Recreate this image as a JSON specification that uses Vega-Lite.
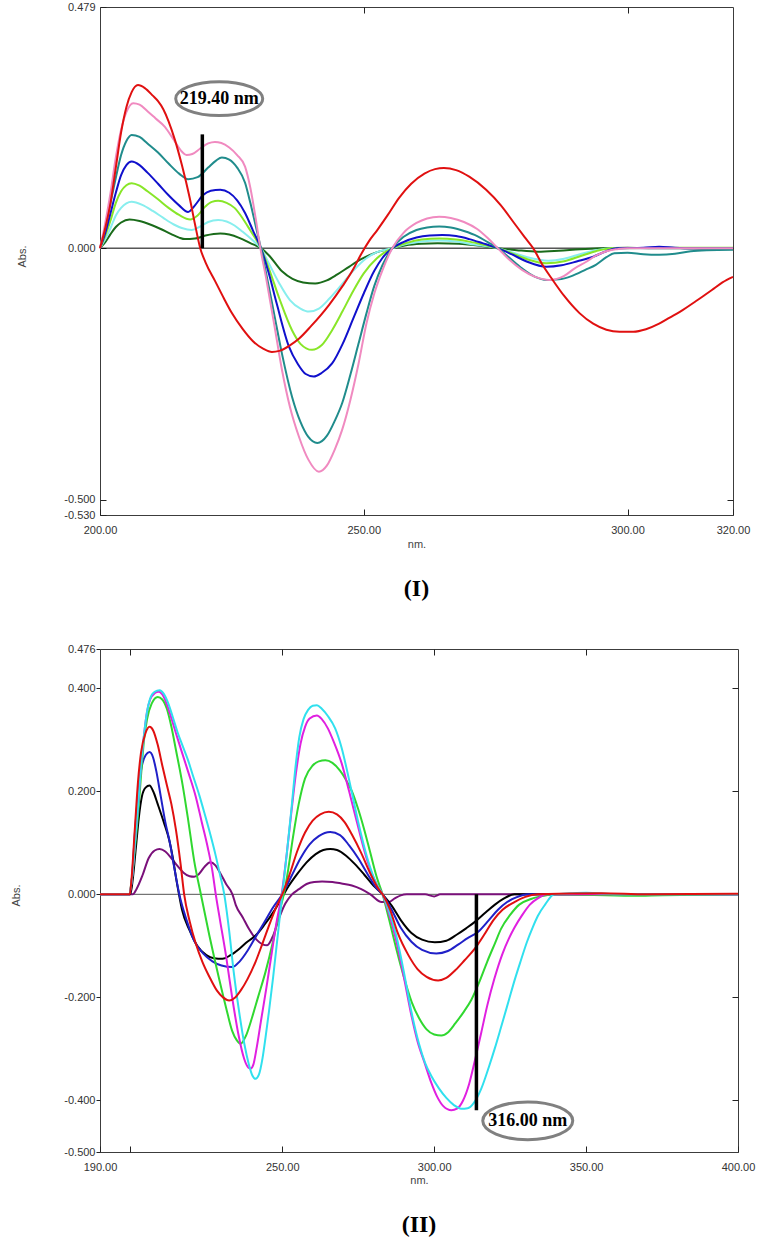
{
"$schema": "https://vega.github.io/schema/vega-lite/v6.json",
"autosize": {"type": "none"},
"padding": {"left": 100, "top": 7, "right": 663, "bottom": 1233},
"background": "white",
"spacing": 40,
"resolve": {"scale": {"color": "independent"}},
"config": {
  "view": {"stroke": "#3c3c3c", "strokeWidth": 1},
  "axis": {"grid": false, "domain": false, "labelFont": "Liberation Sans", "labelFontSize": 11, "labelColor": "#333333", "titleFont": "Liberation Sans", "titleFontSize": 11, "titleFontWeight": "normal", "titleColor": "#444444", "tickColor": "#222222", "labelOverlap": false, "labelFlush": false}
},
"datasets": {
"a1": [{"x": 219.4, "y": 0, "y2": 0.226, "lx": 222.6, "ly": 0.297, "label": "219.40 nm"}],
"a2": [{"x": 313.9, "y": 0, "y2": -0.419, "lx": 330.8, "ly": -0.4395, "label": "316.00 nm"}],
"p1": [
{"s":"I7","x":200,"y":0},{"s":"I7","x":201,"y":0.012},{"s":"I7","x":202,"y":0.028},{"s":"I7","x":203,"y":0.042},{"s":"I7","x":204,"y":0.051},{"s":"I7","x":205.6,"y":0.057},{"s":"I7","x":207.5,"y":0.054},{"s":"I7","x":209.5,"y":0.047},{"s":"I7","x":211.5,"y":0.038},{"s":"I7","x":213.5,"y":0.028},{"s":"I7","x":215,"y":0.021},{"s":"I7","x":216.1,"y":0.018},{"s":"I7","x":218,"y":0.019},{"s":"I7","x":220,"y":0.025},{"s":"I7","x":222.8,"y":0.029},{"s":"I7","x":224.5,"y":0.027},{"s":"I7","x":226.5,"y":0.02},{"s":"I7","x":228.5,"y":0.01},{"s":"I7","x":230.5,"y":0},{"s":"I7","x":232,"y":-0.014},{"s":"I7","x":234.5,"y":-0.046},{"s":"I7","x":236.5,"y":-0.061},{"s":"I7","x":238.5,"y":-0.068},{"s":"I7","x":240.8,"y":-0.07},{"s":"I7","x":243,"y":-0.064},{"s":"I7","x":245,"y":-0.052},{"s":"I7","x":247.2,"y":-0.037},{"s":"I7","x":249.5,"y":-0.022},{"s":"I7","x":252,"y":-0.01},{"s":"I7","x":255.4,"y":0},{"s":"I7","x":258,"y":0.006},{"s":"I7","x":261,"y":0.009},{"s":"I7","x":264,"y":0.01},{"s":"I7","x":268,"y":0.009},{"s":"I7","x":272,"y":0.005},{"s":"I7","x":275.4,"y":0},{"s":"I7","x":279,"y":-0.004},{"s":"I7","x":283,"y":-0.007},{"s":"I7","x":287,"y":-0.005},{"s":"I7","x":291,"y":-0.002},{"s":"I7","x":295,"y":0},{"s":"I7","x":300,"y":0.001},{"s":"I7","x":305,"y":0},{"s":"I7","x":310,"y":0},{"s":"I7","x":315,"y":-0.001},{"s":"I7","x":320,"y":0},
{"s":"I6","x":200,"y":0},{"s":"I6","x":201,"y":0.018},{"s":"I6","x":202,"y":0.04},{"s":"I6","x":203,"y":0.065},{"s":"I6","x":204,"y":0.08},{"s":"I6","x":205,"y":0.089},{"s":"I6","x":206,"y":0.092},{"s":"I6","x":208,"y":0.086},{"s":"I6","x":210,"y":0.074},{"s":"I6","x":212,"y":0.06},{"s":"I6","x":214,"y":0.047},{"s":"I6","x":215.5,"y":0.04},{"s":"I6","x":217.4,"y":0.036},{"s":"I6","x":219,"y":0.043},{"s":"I6","x":220.5,"y":0.052},{"s":"I6","x":222.4,"y":0.056},{"s":"I6","x":224,"y":0.053},{"s":"I6","x":225.5,"y":0.045},{"s":"I6","x":227,"y":0.033},{"s":"I6","x":229,"y":0.015},{"s":"I6","x":230.5,"y":0},{"s":"I6","x":232,"y":-0.03},{"s":"I6","x":234,"y":-0.07},{"s":"I6","x":236,"y":-0.103},{"s":"I6","x":238,"y":-0.12},{"s":"I6","x":239.6,"y":-0.126},{"s":"I6","x":241.5,"y":-0.12},{"s":"I6","x":243.5,"y":-0.1},{"s":"I6","x":246,"y":-0.07},{"s":"I6","x":248,"y":-0.045},{"s":"I6","x":250.5,"y":-0.02},{"s":"I6","x":252.5,"y":-0.008},{"s":"I6","x":255.4,"y":0},{"s":"I6","x":258,"y":0.008},{"s":"I6","x":261,"y":0.013},{"s":"I6","x":264,"y":0.015},{"s":"I6","x":267.5,"y":0.013},{"s":"I6","x":271,"y":0.007},{"s":"I6","x":275.4,"y":0},{"s":"I6","x":278,"y":-0.008},{"s":"I6","x":281,"y":-0.018},{"s":"I6","x":285,"y":-0.025},{"s":"I6","x":288,"y":-0.021},{"s":"I6","x":291,"y":-0.012},{"s":"I6","x":294,"y":-0.004},{"s":"I6","x":297,"y":0},{"s":"I6","x":320,"y":0},
{"s":"I5","x":200,"y":0},{"s":"I5","x":201,"y":0.025},{"s":"I5","x":202,"y":0.055},{"s":"I5","x":203,"y":0.09},{"s":"I5","x":204,"y":0.113},{"s":"I5","x":205,"y":0.125},{"s":"I5","x":206,"y":0.129},{"s":"I5","x":207.5,"y":0.124},{"s":"I5","x":209,"y":0.113},{"s":"I5","x":211,"y":0.097},{"s":"I5","x":213,"y":0.08},{"s":"I5","x":215,"y":0.066},{"s":"I5","x":217.1,"y":0.057},{"s":"I5","x":218.5,"y":0.065},{"s":"I5","x":220,"y":0.083},{"s":"I5","x":221.2,"y":0.092},{"s":"I5","x":222.4,"y":0.094},{"s":"I5","x":224,"y":0.09},{"s":"I5","x":225.5,"y":0.08},{"s":"I5","x":227,"y":0.06},{"s":"I5","x":228.5,"y":0.035},{"s":"I5","x":230.5,"y":0},{"s":"I5","x":232,"y":-0.04},{"s":"I5","x":234,"y":-0.1},{"s":"I5","x":236.4,"y":-0.163},{"s":"I5","x":238,"y":-0.19},{"s":"I5","x":240.2,"y":-0.202},{"s":"I5","x":242,"y":-0.193},{"s":"I5","x":244,"y":-0.163},{"s":"I5","x":246,"y":-0.125},{"s":"I5","x":248,"y":-0.085},{"s":"I5","x":250,"y":-0.05},{"s":"I5","x":252.5,"y":-0.02},{"s":"I5","x":255.4,"y":0},{"s":"I5","x":258,"y":0.01},{"s":"I5","x":261,"y":0.017},{"s":"I5","x":264.3,"y":0.019},{"s":"I5","x":267.5,"y":0.017},{"s":"I5","x":270,"y":0.013},{"s":"I5","x":273,"y":0.006},{"s":"I5","x":275.4,"y":0},{"s":"I5","x":278,"y":-0.01},{"s":"I5","x":281,"y":-0.022},{"s":"I5","x":284.6,"y":-0.03},{"s":"I5","x":288,"y":-0.026},{"s":"I5","x":291,"y":-0.016},{"s":"I5","x":294,"y":-0.006},{"s":"I5","x":297,"y":0},{"s":"I5","x":310,"y":0.001},{"s":"I5","x":320,"y":0.001},
{"s":"I4","x":200,"y":0},{"s":"I4","x":201,"y":0.03},{"s":"I4","x":202,"y":0.07},{"s":"I4","x":203,"y":0.11},{"s":"I4","x":204,"y":0.145},{"s":"I4","x":205,"y":0.165},{"s":"I4","x":206,"y":0.172},{"s":"I4","x":207.5,"y":0.165},{"s":"I4","x":209,"y":0.15},{"s":"I4","x":211,"y":0.128},{"s":"I4","x":213,"y":0.105},{"s":"I4","x":215,"y":0.085},{"s":"I4","x":216.7,"y":0.072},{"s":"I4","x":218,"y":0.085},{"s":"I4","x":219.5,"y":0.105},{"s":"I4","x":221,"y":0.114},{"s":"I4","x":222.8,"y":0.116},{"s":"I4","x":224.5,"y":0.11},{"s":"I4","x":226,"y":0.095},{"s":"I4","x":227.5,"y":0.07},{"s":"I4","x":229,"y":0.035},{"s":"I4","x":230.5,"y":0},{"s":"I4","x":232,"y":-0.05},{"s":"I4","x":233.5,"y":-0.11},{"s":"I4","x":235.8,"y":-0.195},{"s":"I4","x":237.5,"y":-0.23},{"s":"I4","x":239,"y":-0.25},{"s":"I4","x":240.5,"y":-0.255},{"s":"I4","x":242,"y":-0.248},{"s":"I4","x":244,"y":-0.229},{"s":"I4","x":246,"y":-0.19},{"s":"I4","x":248,"y":-0.14},{"s":"I4","x":250,"y":-0.09},{"s":"I4","x":252,"y":-0.045},{"s":"I4","x":253.5,"y":-0.02},{"s":"I4","x":255.4,"y":0},{"s":"I4","x":257.5,"y":0.012},{"s":"I4","x":260,"y":0.021},{"s":"I4","x":262.5,"y":0.025},{"s":"I4","x":264.9,"y":0.026},{"s":"I4","x":267.5,"y":0.024},{"s":"I4","x":270,"y":0.018},{"s":"I4","x":272.5,"y":0.01},{"s":"I4","x":275.4,"y":0},{"s":"I4","x":278,"y":-0.012},{"s":"I4","x":281,"y":-0.027},{"s":"I4","x":284.6,"y":-0.037},{"s":"I4","x":287.5,"y":-0.034},{"s":"I4","x":290.5,"y":-0.026},{"s":"I4","x":293.5,"y":-0.017},{"s":"I4","x":296,"y":-0.006},{"s":"I4","x":298,"y":0},{"s":"I4","x":303,"y":0.001},{"s":"I4","x":306,"y":0.003},{"s":"I4","x":309,"y":0.001},{"s":"I4","x":312,"y":0},{"s":"I4","x":320,"y":0},
{"s":"I3","x":200,"y":0},{"s":"I3","x":201,"y":0.04},{"s":"I3","x":202,"y":0.09},{"s":"I3","x":203,"y":0.14},{"s":"I3","x":204,"y":0.185},{"s":"I3","x":205,"y":0.213},{"s":"I3","x":206,"y":0.225},{"s":"I3","x":207.5,"y":0.221},{"s":"I3","x":209,"y":0.208},{"s":"I3","x":211,"y":0.19},{"s":"I3","x":213,"y":0.168},{"s":"I3","x":215,"y":0.148},{"s":"I3","x":216.7,"y":0.137},{"s":"I3","x":218.5,"y":0.141},{"s":"I3","x":220.5,"y":0.16},{"s":"I3","x":222,"y":0.174},{"s":"I3","x":223.1,"y":0.18},{"s":"I3","x":224.5,"y":0.176},{"s":"I3","x":226,"y":0.16},{"s":"I3","x":227.5,"y":0.13},{"s":"I3","x":228.5,"y":0.09},{"s":"I3","x":229.5,"y":0.045},{"s":"I3","x":230.5,"y":0},{"s":"I3","x":231.5,"y":-0.05},{"s":"I3","x":233,"y":-0.13},{"s":"I3","x":234.5,"y":-0.21},{"s":"I3","x":236.4,"y":-0.295},{"s":"I3","x":238,"y":-0.345},{"s":"I3","x":239.5,"y":-0.375},{"s":"I3","x":241.2,"y":-0.387},{"s":"I3","x":243,"y":-0.373},{"s":"I3","x":244.5,"y":-0.343},{"s":"I3","x":245.9,"y":-0.308},{"s":"I3","x":247.5,"y":-0.25},{"s":"I3","x":249,"y":-0.19},{"s":"I3","x":250.5,"y":-0.13},{"s":"I3","x":252,"y":-0.075},{"s":"I3","x":253.5,"y":-0.035},{"s":"I3","x":255.4,"y":0},{"s":"I3","x":257.5,"y":0.022},{"s":"I3","x":260,"y":0.036},{"s":"I3","x":262,"y":0.041},{"s":"I3","x":264.3,"y":0.043},{"s":"I3","x":266.5,"y":0.041},{"s":"I3","x":269,"y":0.034},{"s":"I3","x":271.5,"y":0.024},{"s":"I3","x":273.5,"y":0.012},{"s":"I3","x":275.4,"y":0},{"s":"I3","x":277.5,"y":-0.018},{"s":"I3","x":280,"y":-0.04},{"s":"I3","x":282.5,"y":-0.057},{"s":"I3","x":284.6,"y":-0.063},{"s":"I3","x":287,"y":-0.062},{"s":"I3","x":289.5,"y":-0.055},{"s":"I3","x":292,"y":-0.043},{"s":"I3","x":294,"y":-0.033},{"s":"I3","x":296,"y":-0.018},{"s":"I3","x":297.5,"y":-0.01},{"s":"I3","x":300,"y":-0.009},{"s":"I3","x":303,"y":-0.012},{"s":"I3","x":306,"y":-0.013},{"s":"I3","x":309,"y":-0.011},{"s":"I3","x":312,"y":-0.006},{"s":"I3","x":315,"y":-0.004},{"s":"I3","x":320,"y":-0.003},
{"s":"I2","x":200,"y":0},{"s":"I2","x":201,"y":0.05},{"s":"I2","x":202,"y":0.11},{"s":"I2","x":203,"y":0.18},{"s":"I2","x":204,"y":0.235},{"s":"I2","x":205,"y":0.27},{"s":"I2","x":206.3,"y":0.288},{"s":"I2","x":207.5,"y":0.285},{"s":"I2","x":209,"y":0.272},{"s":"I2","x":210.5,"y":0.258},{"s":"I2","x":212.3,"y":0.241},{"s":"I2","x":214,"y":0.215},{"s":"I2","x":215.5,"y":0.192},{"s":"I2","x":216.4,"y":0.185},{"s":"I2","x":217.5,"y":0.187},{"s":"I2","x":219,"y":0.198},{"s":"I2","x":220.5,"y":0.208},{"s":"I2","x":221.8,"y":0.211},{"s":"I2","x":223,"y":0.209},{"s":"I2","x":224.5,"y":0.2},{"s":"I2","x":226,"y":0.185},{"s":"I2","x":227.5,"y":0.162},{"s":"I2","x":228.5,"y":0.12},{"s":"I2","x":229.5,"y":0.06},{"s":"I2","x":230.4,"y":0},{"s":"I2","x":231.5,"y":-0.06},{"s":"I2","x":233,"y":-0.15},{"s":"I2","x":234.5,"y":-0.242},{"s":"I2","x":236,"y":-0.315},{"s":"I2","x":237.7,"y":-0.374},{"s":"I2","x":239.5,"y":-0.42},{"s":"I2","x":241.5,"y":-0.444},{"s":"I2","x":243,"y":-0.432},{"s":"I2","x":244.5,"y":-0.4},{"s":"I2","x":245.9,"y":-0.361},{"s":"I2","x":247.5,"y":-0.3},{"s":"I2","x":249,"y":-0.23},{"s":"I2","x":250.5,"y":-0.15},{"s":"I2","x":252,"y":-0.09},{"s":"I2","x":253.5,"y":-0.045},{"s":"I2","x":255.4,"y":0},{"s":"I2","x":257.5,"y":0.03},{"s":"I2","x":260,"y":0.05},{"s":"I2","x":262,"y":0.059},{"s":"I2","x":264.3,"y":0.0625},{"s":"I2","x":266.5,"y":0.06},{"s":"I2","x":269,"y":0.052},{"s":"I2","x":271.5,"y":0.038},{"s":"I2","x":273.5,"y":0.02},{"s":"I2","x":275.4,"y":0},{"s":"I2","x":277.5,"y":-0.022},{"s":"I2","x":280,"y":-0.043},{"s":"I2","x":282.5,"y":-0.057},{"s":"I2","x":285.2,"y":-0.063},{"s":"I2","x":288,"y":-0.055},{"s":"I2","x":290,"y":-0.04},{"s":"I2","x":292.2,"y":-0.027},{"s":"I2","x":294,"y":-0.015},{"s":"I2","x":296,"y":-0.006},{"s":"I2","x":298,"y":-0.002},{"s":"I2","x":300,"y":0},{"s":"I2","x":310,"y":0},{"s":"I2","x":320,"y":0},
{"s":"I1","x":200,"y":0},{"s":"I1","x":201,"y":0.04},{"s":"I1","x":202,"y":0.09},{"s":"I1","x":203,"y":0.16},{"s":"I1","x":204,"y":0.23},{"s":"I1","x":205,"y":0.28},{"s":"I1","x":206,"y":0.31},{"s":"I1","x":207.2,"y":0.324},{"s":"I1","x":208.5,"y":0.318},{"s":"I1","x":210,"y":0.303},{"s":"I1","x":211,"y":0.292},{"s":"I1","x":212,"y":0.276},{"s":"I1","x":213,"y":0.252},{"s":"I1","x":214.2,"y":0.215},{"s":"I1","x":215.5,"y":0.166},{"s":"I1","x":217,"y":0.1},{"s":"I1","x":218,"y":0.048},{"s":"I1","x":219,"y":0},{"s":"I1","x":220,"y":-0.028},{"s":"I1","x":221.8,"y":-0.065},{"s":"I1","x":223.5,"y":-0.1},{"s":"I1","x":225,"y":-0.129},{"s":"I1","x":227,"y":-0.16},{"s":"I1","x":229,"y":-0.185},{"s":"I1","x":231,"y":-0.2},{"s":"I1","x":232.6,"y":-0.206},{"s":"I1","x":234,"y":-0.204},{"s":"I1","x":236,"y":-0.193},{"s":"I1","x":237.7,"y":-0.18},{"s":"I1","x":240,"y":-0.155},{"s":"I1","x":243.4,"y":-0.113},{"s":"I1","x":246,"y":-0.075},{"s":"I1","x":248,"y":-0.042},{"s":"I1","x":249.5,"y":-0.012},{"s":"I1","x":251,"y":0.014},{"s":"I1","x":252.5,"y":0.035},{"s":"I1","x":254.5,"y":0.065},{"s":"I1","x":256.7,"y":0.1},{"s":"I1","x":259,"y":0.128},{"s":"I1","x":261.5,"y":0.148},{"s":"I1","x":263.5,"y":0.157},{"s":"I1","x":265.2,"y":0.159},{"s":"I1","x":267.5,"y":0.155},{"s":"I1","x":270,"y":0.142},{"s":"I1","x":273.2,"y":0.116},{"s":"I1","x":276,"y":0.085},{"s":"I1","x":278.5,"y":0.05},{"s":"I1","x":280.5,"y":0.022},{"s":"I1","x":282.1,"y":0},{"s":"I1","x":284,"y":-0.035},{"s":"I1","x":285.8,"y":-0.063},{"s":"I1","x":288,"y":-0.095},{"s":"I1","x":290.9,"y":-0.129},{"s":"I1","x":293.5,"y":-0.15},{"s":"I1","x":296,"y":-0.162},{"s":"I1","x":298.5,"y":-0.166},{"s":"I1","x":301.1,"y":-0.166},{"s":"I1","x":303.5,"y":-0.161},{"s":"I1","x":306,"y":-0.15},{"s":"I1","x":308,"y":-0.138},{"s":"I1","x":310,"y":-0.126},{"s":"I1","x":313,"y":-0.105},{"s":"I1","x":316,"y":-0.083},{"s":"I1","x":318,"y":-0.068},{"s":"I1","x":320,"y":-0.057}
],
"p2": [
{"s":"II7","x":190,"y":0},{"s":"II7","x":200.8,"y":0},{"s":"II7","x":202,"y":0.01},{"s":"II7","x":204,"y":0.037},{"s":"II7","x":206,"y":0.07},{"s":"II7","x":208,"y":0.085},{"s":"II7","x":209.6,"y":0.088},{"s":"II7","x":211.5,"y":0.083},{"s":"II7","x":213.5,"y":0.07},{"s":"II7","x":215.5,"y":0.055},{"s":"II7","x":217.5,"y":0.042},{"s":"II7","x":219.5,"y":0.035},{"s":"II7","x":221,"y":0.034},{"s":"II7","x":222.5,"y":0.039},{"s":"II7","x":224.5,"y":0.054},{"s":"II7","x":226.3,"y":0.062},{"s":"II7","x":228,"y":0.056},{"s":"II7","x":229.5,"y":0.042},{"s":"II7","x":231.5,"y":0.02},{"s":"II7","x":233.6,"y":0},{"s":"II7","x":234.7,"y":-0.021},{"s":"II7","x":237,"y":-0.045},{"s":"II7","x":239,"y":-0.067},{"s":"II7","x":241.5,"y":-0.088},{"s":"II7","x":243.5,"y":-0.097},{"s":"II7","x":245,"y":-0.099},{"s":"II7","x":247,"y":-0.08},{"s":"II7","x":248.9,"y":-0.047},{"s":"II7","x":251,"y":-0.018},{"s":"II7","x":253.2,"y":0},{"s":"II7","x":255.5,"y":0.01},{"s":"II7","x":258,"y":0.02},{"s":"II7","x":260.5,"y":0.024},{"s":"II7","x":263.1,"y":0.025},{"s":"II7","x":266.5,"y":0.024},{"s":"II7","x":269.5,"y":0.021},{"s":"II7","x":272.9,"y":0.017},{"s":"II7","x":276,"y":0.01},{"s":"II7","x":279,"y":0},{"s":"II7","x":282.7,"y":-0.015},{"s":"II7","x":285,"y":-0.015},{"s":"II7","x":287,"y":-0.008},{"s":"II7","x":289,"y":-0.002},{"s":"II7","x":291,"y":0},{"s":"II7","x":297,"y":0},{"s":"II7","x":300,"y":-0.004},{"s":"II7","x":302,"y":0},{"s":"II7","x":350,"y":0},{"s":"II7","x":400,"y":0},
{"s":"II6","x":190,"y":0},{"s":"II6","x":200,"y":0},{"s":"II6","x":200.8,"y":0.03},{"s":"II6","x":201.8,"y":0.09},{"s":"II6","x":202.8,"y":0.15},{"s":"II6","x":203.8,"y":0.19},{"s":"II6","x":205,"y":0.207},{"s":"II6","x":206.3,"y":0.211},{"s":"II6","x":207.5,"y":0.2},{"s":"II6","x":209,"y":0.175},{"s":"II6","x":211,"y":0.14},{"s":"II6","x":212.8,"y":0.105},{"s":"II6","x":214,"y":0.07},{"s":"II6","x":215,"y":0.033},{"s":"II6","x":216,"y":0},{"s":"II6","x":217,"y":-0.03},{"s":"II6","x":219.5,"y":-0.07},{"s":"II6","x":222,"y":-0.1},{"s":"II6","x":225,"y":-0.118},{"s":"II6","x":227.5,"y":-0.124},{"s":"II6","x":230.3,"y":-0.125},{"s":"II6","x":233,"y":-0.118},{"s":"II6","x":236,"y":-0.105},{"s":"II6","x":238.5,"y":-0.092},{"s":"II6","x":241.2,"y":-0.08},{"s":"II6","x":244,"y":-0.06},{"s":"II6","x":247,"y":-0.035},{"s":"II6","x":250,"y":-0.005},{"s":"II6","x":252,"y":0.015},{"s":"II6","x":255,"y":0.04},{"s":"II6","x":258,"y":0.062},{"s":"II6","x":261,"y":0.078},{"s":"II6","x":263.5,"y":0.086},{"s":"II6","x":265.8,"y":0.088},{"s":"II6","x":268,"y":0.086},{"s":"II6","x":271,"y":0.075},{"s":"II6","x":274,"y":0.058},{"s":"II6","x":277,"y":0.038},{"s":"II6","x":280,"y":0.017},{"s":"II6","x":283,"y":0},{"s":"II6","x":286,"y":-0.022},{"s":"II6","x":289,"y":-0.05},{"s":"II6","x":292.5,"y":-0.075},{"s":"II6","x":296,"y":-0.088},{"s":"II6","x":300.2,"y":-0.093},{"s":"II6","x":304,"y":-0.09},{"s":"II6","x":307.5,"y":-0.078},{"s":"II6","x":310.5,"y":-0.066},{"s":"II6","x":313.3,"y":-0.054},{"s":"II6","x":317,"y":-0.035},{"s":"II6","x":320,"y":-0.02},{"s":"II6","x":323,"y":-0.008},{"s":"II6","x":326.4,"y":0},{"s":"II6","x":350,"y":0},{"s":"II6","x":400,"y":0},
{"s":"II5","x":190,"y":0},{"s":"II5","x":199.8,"y":0},{"s":"II5","x":200.5,"y":0.03},{"s":"II5","x":201.5,"y":0.12},{"s":"II5","x":202.5,"y":0.19},{"s":"II5","x":203.5,"y":0.24},{"s":"II5","x":205,"y":0.27},{"s":"II5","x":206.3,"y":0.276},{"s":"II5","x":207.5,"y":0.265},{"s":"II5","x":208.5,"y":0.24},{"s":"II5","x":210,"y":0.19},{"s":"II5","x":211.5,"y":0.14},{"s":"II5","x":213,"y":0.1},{"s":"II5","x":214.5,"y":0.05},{"s":"II5","x":216.1,"y":0},{"s":"II5","x":218.5,"y":-0.05},{"s":"II5","x":221,"y":-0.09},{"s":"II5","x":224,"y":-0.115},{"s":"II5","x":227,"y":-0.13},{"s":"II5","x":230,"y":-0.138},{"s":"II5","x":233.6,"y":-0.141},{"s":"II5","x":236,"y":-0.13},{"s":"II5","x":238.5,"y":-0.11},{"s":"II5","x":241,"y":-0.085},{"s":"II5","x":244,"y":-0.055},{"s":"II5","x":247,"y":-0.025},{"s":"II5","x":250,"y":0},{"s":"II5","x":253,"y":0.035},{"s":"II5","x":256,"y":0.07},{"s":"II5","x":259,"y":0.097},{"s":"II5","x":262,"y":0.113},{"s":"II5","x":265.8,"y":0.121},{"s":"II5","x":269,"y":0.115},{"s":"II5","x":272,"y":0.095},{"s":"II5","x":275,"y":0.07},{"s":"II5","x":278,"y":0.04},{"s":"II5","x":281,"y":0.012},{"s":"II5","x":283,"y":0},{"s":"II5","x":286,"y":-0.03},{"s":"II5","x":289,"y":-0.065},{"s":"II5","x":292.5,"y":-0.092},{"s":"II5","x":296,"y":-0.108},{"s":"II5","x":300.7,"y":-0.115},{"s":"II5","x":304.5,"y":-0.11},{"s":"II5","x":308,"y":-0.097},{"s":"II5","x":311,"y":-0.085},{"s":"II5","x":314.4,"y":-0.073},{"s":"II5","x":318,"y":-0.05},{"s":"II5","x":321,"y":-0.03},{"s":"II5","x":324,"y":-0.015},{"s":"II5","x":327,"y":-0.006},{"s":"II5","x":331,"y":0},{"s":"II5","x":350,"y":0},{"s":"II5","x":400,"y":0},
{"s":"II3","x":190,"y":0},{"s":"II3","x":199.5,"y":0},{"s":"II3","x":200.5,"y":0.03},{"s":"II3","x":201.5,"y":0.09},{"s":"II3","x":202.5,"y":0.153},{"s":"II3","x":203.5,"y":0.23},{"s":"II3","x":204.5,"y":0.3},{"s":"II3","x":205.5,"y":0.34},{"s":"II3","x":207,"y":0.37},{"s":"II3","x":209,"y":0.383},{"s":"II3","x":210.5,"y":0.378},{"s":"II3","x":212,"y":0.36},{"s":"II3","x":213.5,"y":0.325},{"s":"II3","x":215,"y":0.28},{"s":"II3","x":217.2,"y":0.212},{"s":"II3","x":219,"y":0.145},{"s":"II3","x":221,"y":0.065},{"s":"II3","x":223.2,"y":0},{"s":"II3","x":226,"y":-0.08},{"s":"II3","x":229.2,"y":-0.164},{"s":"II3","x":231.5,"y":-0.22},{"s":"II3","x":233.5,"y":-0.265},{"s":"II3","x":235,"y":-0.283},{"s":"II3","x":236.3,"y":-0.29},{"s":"II3","x":238,"y":-0.275},{"s":"II3","x":240,"y":-0.24},{"s":"II3","x":242,"y":-0.2},{"s":"II3","x":244.5,"y":-0.15},{"s":"II3","x":247,"y":-0.09},{"s":"II3","x":249,"y":-0.035},{"s":"II3","x":250.5,"y":0},{"s":"II3","x":252,"y":0.05},{"s":"II3","x":253.5,"y":0.11},{"s":"II3","x":255.4,"y":0.175},{"s":"II3","x":257.5,"y":0.225},{"s":"II3","x":260,"y":0.25},{"s":"II3","x":262,"y":0.258},{"s":"II3","x":264.2,"y":0.26},{"s":"II3","x":266.5,"y":0.255},{"s":"II3","x":269,"y":0.24},{"s":"II3","x":271,"y":0.222},{"s":"II3","x":272.9,"y":0.2},{"s":"II3","x":275,"y":0.165},{"s":"II3","x":277,"y":0.125},{"s":"II3","x":279,"y":0.08},{"s":"II3","x":281,"y":0.035},{"s":"II3","x":283,"y":0},{"s":"II3","x":285,"y":-0.045},{"s":"II3","x":287.5,"y":-0.105},{"s":"II3","x":290,"y":-0.16},{"s":"II3","x":292.6,"y":-0.209},{"s":"II3","x":295,"y":-0.24},{"s":"II3","x":297.5,"y":-0.262},{"s":"II3","x":300,"y":-0.272},{"s":"II3","x":302.4,"y":-0.274},{"s":"II3","x":304.5,"y":-0.268},{"s":"II3","x":307,"y":-0.25},{"s":"II3","x":309.5,"y":-0.23},{"s":"II3","x":312.2,"y":-0.205},{"s":"II3","x":315,"y":-0.168},{"s":"II3","x":317.5,"y":-0.13},{"s":"II3","x":320,"y":-0.095},{"s":"II3","x":322,"y":-0.067},{"s":"II3","x":325,"y":-0.04},{"s":"II3","x":328,"y":-0.02},{"s":"II3","x":331.9,"y":-0.009},{"s":"II3","x":336,"y":-0.003},{"s":"II3","x":340,"y":0},{"s":"II3","x":365,"y":-0.003},{"s":"II3","x":375,"y":-0.002},{"s":"II3","x":400,"y":0},
{"s":"II2","x":190,"y":0},{"s":"II2","x":199.5,"y":0},{"s":"II2","x":200.5,"y":0.03},{"s":"II2","x":201.5,"y":0.1},{"s":"II2","x":202.5,"y":0.17},{"s":"II2","x":203.5,"y":0.25},{"s":"II2","x":204.5,"y":0.31},{"s":"II2","x":205.5,"y":0.355},{"s":"II2","x":206.5,"y":0.378},{"s":"II2","x":208,"y":0.39},{"s":"II2","x":209.3,"y":0.393},{"s":"II2","x":211,"y":0.383},{"s":"II2","x":212.5,"y":0.36},{"s":"II2","x":214,"y":0.332},{"s":"II2","x":215.5,"y":0.303},{"s":"II2","x":217,"y":0.275},{"s":"II2","x":219,"y":0.238},{"s":"II2","x":221.5,"y":0.19},{"s":"II2","x":223.5,"y":0.14},{"s":"II2","x":225.5,"y":0.09},{"s":"II2","x":227,"y":0.045},{"s":"II2","x":228.1,"y":0},{"s":"II2","x":229.5,"y":-0.05},{"s":"II2","x":231.5,"y":-0.12},{"s":"II2","x":233.5,"y":-0.2},{"s":"II2","x":235.5,"y":-0.27},{"s":"II2","x":237.5,"y":-0.32},{"s":"II2","x":238.8,"y":-0.336},{"s":"II2","x":239.6,"y":-0.338},{"s":"II2","x":240.5,"y":-0.33},{"s":"II2","x":241.5,"y":-0.3},{"s":"II2","x":243,"y":-0.245},{"s":"II2","x":244.8,"y":-0.18},{"s":"II2","x":246.5,"y":-0.115},{"s":"II2","x":248,"y":-0.058},{"s":"II2","x":249.8,"y":0},{"s":"II2","x":251.5,"y":0.08},{"s":"II2","x":253,"y":0.16},{"s":"II2","x":254.5,"y":0.235},{"s":"II2","x":256,"y":0.292},{"s":"II2","x":257.5,"y":0.325},{"s":"II2","x":259,"y":0.341},{"s":"II2","x":261.4,"y":0.347},{"s":"II2","x":263,"y":0.34},{"s":"II2","x":265,"y":0.322},{"s":"II2","x":267,"y":0.295},{"s":"II2","x":269.5,"y":0.255},{"s":"II2","x":272,"y":0.2},{"s":"II2","x":275,"y":0.13},{"s":"II2","x":278,"y":0.065},{"s":"II2","x":281,"y":0.02},{"s":"II2","x":283,"y":0},{"s":"II2","x":285,"y":-0.035},{"s":"II2","x":287.5,"y":-0.09},{"s":"II2","x":290,"y":-0.16},{"s":"II2","x":292.5,"y":-0.235},{"s":"II2","x":294.5,"y":-0.285},{"s":"II2","x":296.9,"y":-0.328},{"s":"II2","x":299,"y":-0.365},{"s":"II2","x":301,"y":-0.393},{"s":"II2","x":303,"y":-0.411},{"s":"II2","x":305.7,"y":-0.419},{"s":"II2","x":307.5,"y":-0.416},{"s":"II2","x":309.5,"y":-0.4},{"s":"II2","x":311.5,"y":-0.368},{"s":"II2","x":313.3,"y":-0.325},{"s":"II2","x":315.5,"y":-0.268},{"s":"II2","x":317.5,"y":-0.215},{"s":"II2","x":319.8,"y":-0.164},{"s":"II2","x":322.5,"y":-0.115},{"s":"II2","x":324.5,"y":-0.087},{"s":"II2","x":326.4,"y":-0.065},{"s":"II2","x":329,"y":-0.04},{"s":"II2","x":331.5,"y":-0.02},{"s":"II2","x":334.1,"y":-0.008},{"s":"II2","x":337,"y":0},{"s":"II2","x":400,"y":0},
{"s":"II1","x":190,"y":0},{"s":"II1","x":199.5,"y":0},{"s":"II1","x":200.5,"y":0.03},{"s":"II1","x":201.5,"y":0.1},{"s":"II1","x":202.5,"y":0.17},{"s":"II1","x":203.5,"y":0.25},{"s":"II1","x":204.5,"y":0.31},{"s":"II1","x":205.5,"y":0.355},{"s":"II1","x":206.5,"y":0.38},{"s":"II1","x":208,"y":0.393},{"s":"II1","x":209.6,"y":0.396},{"s":"II1","x":211,"y":0.389},{"s":"II1","x":212.5,"y":0.37},{"s":"II1","x":214,"y":0.343},{"s":"II1","x":215.5,"y":0.315},{"s":"II1","x":217.2,"y":0.288},{"s":"II1","x":219,"y":0.26},{"s":"II1","x":220.5,"y":0.232},{"s":"II1","x":222.7,"y":0.192},{"s":"II1","x":224.5,"y":0.155},{"s":"II1","x":226.5,"y":0.112},{"s":"II1","x":228,"y":0.077},{"s":"II1","x":229.5,"y":0.038},{"s":"II1","x":230.9,"y":0},{"s":"II1","x":232.5,"y":-0.07},{"s":"II1","x":234,"y":-0.15},{"s":"II1","x":235.8,"y":-0.228},{"s":"II1","x":237.5,"y":-0.29},{"s":"II1","x":239,"y":-0.33},{"s":"II1","x":240.2,"y":-0.352},{"s":"II1","x":241.2,"y":-0.358},{"s":"II1","x":242.3,"y":-0.35},{"s":"II1","x":243.5,"y":-0.318},{"s":"II1","x":244.5,"y":-0.277},{"s":"II1","x":245.6,"y":-0.228},{"s":"II1","x":247,"y":-0.16},{"s":"II1","x":248.5,"y":-0.08},{"s":"II1","x":250,"y":0},{"s":"II1","x":251.5,"y":0.08},{"s":"II1","x":253,"y":0.165},{"s":"II1","x":254.5,"y":0.255},{"s":"II1","x":255.6,"y":0.305},{"s":"II1","x":257,"y":0.34},{"s":"II1","x":258.5,"y":0.358},{"s":"II1","x":260,"y":0.366},{"s":"II1","x":261.4,"y":0.367},{"s":"II1","x":263,"y":0.36},{"s":"II1","x":265,"y":0.346},{"s":"II1","x":267.4,"y":0.322},{"s":"II1","x":269.5,"y":0.285},{"s":"II1","x":272,"y":0.222},{"s":"II1","x":275,"y":0.14},{"s":"II1","x":278,"y":0.07},{"s":"II1","x":281,"y":0.02},{"s":"II1","x":283,"y":0},{"s":"II1","x":285,"y":-0.03},{"s":"II1","x":287.5,"y":-0.08},{"s":"II1","x":290,"y":-0.15},{"s":"II1","x":292.5,"y":-0.228},{"s":"II1","x":295,"y":-0.29},{"s":"II1","x":297,"y":-0.327},{"s":"II1","x":299.1,"y":-0.353},{"s":"II1","x":301.5,"y":-0.376},{"s":"II1","x":304,"y":-0.395},{"s":"II1","x":306.5,"y":-0.409},{"s":"II1","x":308.9,"y":-0.416},{"s":"II1","x":311,"y":-0.415},{"s":"II1","x":313,"y":-0.405},{"s":"II1","x":315.5,"y":-0.377},{"s":"II1","x":318,"y":-0.335},{"s":"II1","x":320,"y":-0.298},{"s":"II1","x":322,"y":-0.258},{"s":"II1","x":324.5,"y":-0.207},{"s":"II1","x":326.5,"y":-0.166},{"s":"II1","x":328.6,"y":-0.127},{"s":"II1","x":330.5,"y":-0.093},{"s":"II1","x":332.5,"y":-0.063},{"s":"II1","x":334.1,"y":-0.042},{"s":"II1","x":336.5,"y":-0.02},{"s":"II1","x":339.5,"y":0},{"s":"II1","x":345,"y":0.002},{"s":"II1","x":350,"y":0.003},{"s":"II1","x":360,"y":0},{"s":"II1","x":400,"y":0},
{"s":"II4","x":190,"y":0},{"s":"II4","x":199.8,"y":0},{"s":"II4","x":200.3,"y":0.024},{"s":"II4","x":201.5,"y":0.13},{"s":"II4","x":202.5,"y":0.218},{"s":"II4","x":203.5,"y":0.275},{"s":"II4","x":205,"y":0.313},{"s":"II4","x":206.3,"y":0.325},{"s":"II4","x":207.5,"y":0.318},{"s":"II4","x":209,"y":0.29},{"s":"II4","x":210.5,"y":0.25},{"s":"II4","x":212,"y":0.212},{"s":"II4","x":213.5,"y":0.175},{"s":"II4","x":215,"y":0.125},{"s":"II4","x":216.5,"y":0.06},{"s":"II4","x":217.7,"y":0},{"s":"II4","x":219.5,"y":-0.052},{"s":"II4","x":221.5,"y":-0.095},{"s":"II4","x":223.7,"y":-0.131},{"s":"II4","x":226,"y":-0.16},{"s":"II4","x":228.5,"y":-0.187},{"s":"II4","x":230.5,"y":-0.2},{"s":"II4","x":232.5,"y":-0.206},{"s":"II4","x":234.5,"y":-0.2},{"s":"II4","x":236.5,"y":-0.185},{"s":"II4","x":238.5,"y":-0.165},{"s":"II4","x":241.2,"y":-0.131},{"s":"II4","x":243.5,"y":-0.095},{"s":"II4","x":246,"y":-0.055},{"s":"II4","x":248,"y":-0.025},{"s":"II4","x":250,"y":0},{"s":"II4","x":252.5,"y":0.04},{"s":"II4","x":255,"y":0.085},{"s":"II4","x":257.5,"y":0.12},{"s":"II4","x":260,"y":0.143},{"s":"II4","x":262.5,"y":0.155},{"s":"II4","x":265.3,"y":0.16},{"s":"II4","x":268,"y":0.155},{"s":"II4","x":270.5,"y":0.14},{"s":"II4","x":273,"y":0.115},{"s":"II4","x":276,"y":0.08},{"s":"II4","x":279,"y":0.04},{"s":"II4","x":281.5,"y":0.012},{"s":"II4","x":283,"y":0},{"s":"II4","x":285.5,"y":-0.03},{"s":"II4","x":288,"y":-0.075},{"s":"II4","x":291.5,"y":-0.118},{"s":"II4","x":294.5,"y":-0.145},{"s":"II4","x":297.5,"y":-0.16},{"s":"II4","x":301.3,"y":-0.167},{"s":"II4","x":304,"y":-0.162},{"s":"II4","x":307,"y":-0.147},{"s":"II4","x":310,"y":-0.128},{"s":"II4","x":313.3,"y":-0.106},{"s":"II4","x":316.5,"y":-0.078},{"s":"II4","x":319.5,"y":-0.05},{"s":"II4","x":322.5,"y":-0.03},{"s":"II4","x":326.4,"y":-0.015},{"s":"II4","x":330,"y":-0.005},{"s":"II4","x":334,"y":0},{"s":"II4","x":355,"y":0.002},{"s":"II4","x":370,"y":0},{"s":"II4","x":400,"y":0.001}
]
},
"vconcat": [
{
  "width": 633, "height": 508,
  "title": {"text": "(I)", "orient": "bottom", "anchor": "middle", "frame": "group", "font": "Liberation Serif", "fontSize": 24, "fontWeight": "bold", "color": "#000000", "offset": 28},
  "layer": [
    {"data": {"name": "a1"}, "mark": {"type": "rule", "color": "#000000", "strokeWidth": 1},
     "encoding": {"y": {"datum": 0, "type": "quantitative", "scale": {"domain": [-0.53, 0.479], "nice": false, "zero": false}, "axis": null}}},
    {"data": {"name": "p1"}, "mark": {"type": "line", "strokeWidth": 2, "interpolate": "monotone"},
     "encoding": {
       "x": {"field": "x", "type": "quantitative", "scale": {"domain": [200, 320], "nice": false, "zero": false},
             "axis": {"orient": "bottom", "values": [200, 250, 300, 320], "labelExpr": "format(datum.value, '.2f')", "tickSize": -6, "labelPadding": 21, "labelBaseline": "middle", "title": "nm.", "titleY": 29, "titleBaseline": "middle"}},
       "y": {"field": "y", "type": "quantitative", "scale": {"domain": [-0.53, 0.479], "nice": false, "zero": false},
             "axis": {"orient": "left", "values": [0.479, 0, -0.5, -0.53], "labelExpr": "replace(format(datum.value, '.3f'), '−', '-')", "tickSize": -6, "labelPadding": 11, "title": "Abs.", "titleX": -78, "titleY": 249, "titleAngle": 270, "titleAlign": "center", "titleBaseline": "middle"}},
       "color": {"field": "s", "type": "nominal", "legend": null,
                 "scale": {"domain": ["I1", "I2", "I3", "I4", "I5", "I6", "I7"], "range": ["#e01010", "#f08ac0", "#208c8c", "#1010cc", "#88e628", "#88eeee", "#1a6b1a"]}}
     }},
    {"data": {"name": "a1"}, "mark": {"type": "rule", "color": "#000000", "strokeWidth": 3.5},
     "encoding": {
       "x": {"field": "x", "type": "quantitative", "scale": {"domain": [200, 320], "nice": false, "zero": false},
             "axis": {"orient": "top", "values": [250, 300], "labels": false, "tickSize": -6, "title": null}},
       "y": {"field": "y", "type": "quantitative", "scale": {"domain": [-0.53, 0.479], "nice": false, "zero": false},
             "axis": {"orient": "right", "values": [0, -0.5], "labels": false, "tickSize": -6, "title": null}},
       "y2": {"field": "y2"}
     }},
    {"data": {"name": "a1"}, "mark": {"type": "point", "shape": "M-1,0A1,0.39,0,1,1,1,0A1,0.39,0,1,1,-1,0Z", "size": 7569, "filled": false, "fill": "#ffffff", "fillOpacity": 1, "stroke": "#808080", "strokeWidth": 3, "opacity": 1},
     "encoding": {
       "x": {"field": "lx", "type": "quantitative", "axis": null},
       "y": {"field": "ly", "type": "quantitative", "axis": null}
     }},
    {"data": {"name": "a1"}, "mark": {"type": "text", "font": "Liberation Serif", "fontSize": 18, "fontWeight": "bold", "align": "center", "baseline": "middle", "color": "#000000"},
     "encoding": {
       "x": {"field": "lx", "type": "quantitative", "axis": null},
       "y": {"field": "ly", "type": "quantitative", "axis": null},
       "text": {"field": "label"}
     }}
  ]
},
{
  "width": 638, "height": 503,
  "title": {"text": "(II)", "orient": "bottom", "anchor": "middle", "frame": "group", "font": "Liberation Serif", "fontSize": 24, "fontWeight": "bold", "color": "#000000", "offset": 28},
  "layer": [
    {"data": {"name": "a2"}, "mark": {"type": "rule", "color": "#555555", "strokeWidth": 1},
     "encoding": {"y": {"datum": 0, "type": "quantitative", "scale": {"domain": [-0.5, 0.476], "nice": false, "zero": false}, "axis": null}}},
    {"data": {"name": "p2"}, "mark": {"type": "line", "strokeWidth": 2, "interpolate": "monotone"},
     "encoding": {
       "x": {"field": "x", "type": "quantitative", "scale": {"domain": [190, 400], "nice": false, "zero": false},
             "axis": {"orient": "bottom", "values": [190, 200, 250, 300, 350, 400], "labelExpr": "datum.value == 200 ? '' : format(datum.value, '.2f')", "tickSize": -6, "labelPadding": 21, "labelBaseline": "middle", "title": "nm.", "titleY": 28, "titleBaseline": "middle"}},
       "y": {"field": "y", "type": "quantitative", "scale": {"domain": [-0.5, 0.476], "nice": false, "zero": false},
             "axis": {"orient": "left", "values": [0.476, 0.4, 0.2, 0, -0.2, -0.4, -0.5], "labelExpr": "replace(format(datum.value, '.3f'), '−', '-')", "tickSize": 4, "labelPadding": 1, "title": "Abs.", "titleX": -84, "titleY": 246, "titleAngle": 270, "titleAlign": "center", "titleBaseline": "middle"}},
       "color": {"field": "s", "type": "nominal", "legend": null,
                 "scale": {"domain": ["II1", "II2", "II3", "II4", "II5", "II6", "II7"], "range": ["#30e0ee", "#e020e0", "#30d830", "#e01010", "#2020c8", "#000000", "#7a107a"]}}
     }},
    {"data": {"name": "a2"}, "mark": {"type": "rule", "color": "#000000", "strokeWidth": 3.5},
     "encoding": {
       "x": {"field": "x", "type": "quantitative", "scale": {"domain": [190, 400], "nice": false, "zero": false},
             "axis": {"orient": "top", "values": [200, 250, 300, 350], "labels": false, "tickSize": -6, "title": null}},
       "y": {"field": "y", "type": "quantitative", "scale": {"domain": [-0.5, 0.476], "nice": false, "zero": false},
             "axis": {"orient": "right", "values": [0.4, 0.2, 0, -0.2, -0.4], "labels": false, "tickSize": -6, "title": null}},
       "y2": {"field": "y2"}
     }},
    {"data": {"name": "a2"}, "mark": {"type": "point", "shape": "M-1,0A1,0.42,0,1,1,1,0A1,0.42,0,1,1,-1,0Z", "size": 8100, "filled": false, "fill": "#ffffff", "fillOpacity": 1, "stroke": "#808080", "strokeWidth": 3, "opacity": 1},
     "encoding": {
       "x": {"field": "lx", "type": "quantitative", "axis": null},
       "y": {"field": "ly", "type": "quantitative", "axis": null}
     }},
    {"data": {"name": "a2"}, "mark": {"type": "text", "font": "Liberation Serif", "fontSize": 18, "fontWeight": "bold", "align": "center", "baseline": "middle", "color": "#000000"},
     "encoding": {
       "x": {"field": "lx", "type": "quantitative", "axis": null},
       "y": {"field": "ly", "type": "quantitative", "axis": null},
       "text": {"field": "label"}
     }}
  ]
}
]
}
